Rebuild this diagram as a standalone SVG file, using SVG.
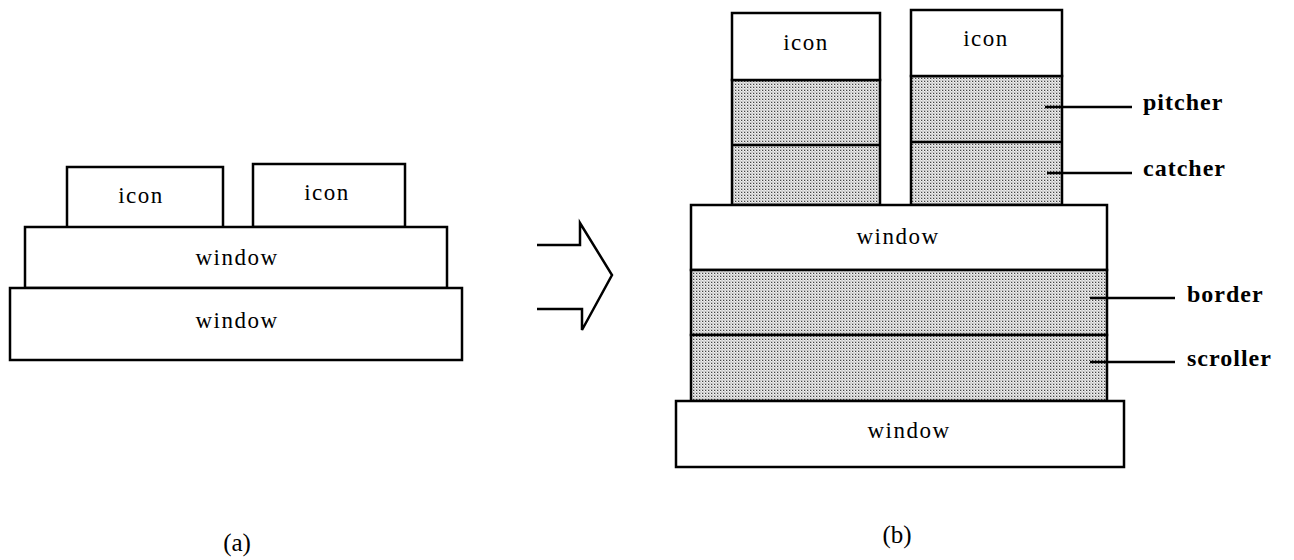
<svg xmlns="http://www.w3.org/2000/svg" width="1294" height="560" viewBox="0 0 1294 560">
<defs>
<pattern id="dots" width="3" height="3" patternUnits="userSpaceOnUse">
<rect width="3" height="3" fill="#f2f2f2"/>
<rect x="0" y="0" width="1" height="1" fill="#444"/>
<rect x="1.5" y="1.5" width="1" height="1" fill="#777"/>
<rect x="1" y="0" width="1" height="1" fill="#bbb"/>
<rect x="0" y="2" width="1" height="1" fill="#bbb"/>
</pattern>
<style>
.box{fill:#fff;stroke:#000;stroke-width:2.5}
.shade{fill:url(#dots);stroke:#000;stroke-width:2.5}
.ln{fill:none;stroke:#000;stroke-width:2.5}
.t{font-family:"Liberation Serif","Times New Roman",serif;font-size:23px;letter-spacing:1.5px;text-anchor:middle;fill:#000}
.lb{font-family:"Liberation Serif","Times New Roman",serif;font-size:24px;font-weight:bold;letter-spacing:1px;fill:#000}
.cap{font-family:"Liberation Serif","Times New Roman",serif;font-size:25px;text-anchor:middle;fill:#000}
</style>
</defs>
<rect width="1294" height="560" fill="#fff"/>

<!-- (a) -->
<g id="a-icon1"><rect class="box" x="67" y="167" width="156" height="62"/><text class="t" x="141" y="203">icon</text></g>
<g id="a-icon2"><rect class="box" x="253" y="164" width="152" height="63"/><text class="t" x="327" y="200">icon</text></g>
<g id="a-window1"><rect class="box" x="25" y="227" width="422" height="61"/><text class="t" x="237" y="265">window</text></g>
<g id="a-window2"><rect class="box" x="10" y="288" width="452" height="72"/><text class="t" x="237" y="328">window</text></g>
<text id="cap-a" class="cap" x="237" y="551">(a)</text>

<!-- arrow -->
<g id="arrow"><path class="ln" d="M537,245 L580,245 L580,223 L612,275 L582,330 L582,309 L537,309" stroke-linejoin="miter"/></g>

<!-- (b) -->
<g id="b-col1">
<rect class="shade" x="732" y="80" width="148" height="125"/>
<rect class="box" x="732" y="13" width="148" height="67"/>
<text class="t" x="806" y="50">icon</text>
<line class="ln" x1="732" y1="145" x2="880" y2="145"/>
</g>
<g id="b-col2">
<rect class="shade" x="911" y="76" width="151" height="129"/>
<rect class="box" x="911" y="10" width="151" height="66"/>
<text class="t" x="986" y="46">icon</text>
<line class="ln" x1="911" y1="142" x2="1062" y2="142"/>
</g>
<g id="b-window1">
<rect class="box" x="691" y="205" width="416" height="65"/>
<text class="t" x="898" y="244">window</text>
</g>
<g id="b-border"><rect class="shade" x="691" y="270" width="416" height="65"/></g>
<g id="b-scroller"><rect class="shade" x="691" y="335" width="416" height="66"/></g>
<g id="b-window2">
<rect class="box" x="676" y="401" width="448" height="66"/>
<text class="t" x="909" y="438">window</text>
</g>
<text id="cap-b" class="cap" x="897" y="543">(b)</text>

<g id="connectors">
<line class="ln" x1="1045" y1="107" x2="1132" y2="107"/>
<line class="ln" x1="1047" y1="173" x2="1132" y2="173"/>
<line class="ln" x1="1090" y1="298" x2="1175" y2="298"/>
<line class="ln" x1="1090" y1="362" x2="1175" y2="362"/>
</g>
<g id="labels">
<text class="lb" x="1143" y="110">pitcher</text>
<text class="lb" x="1143" y="176">catcher</text>
<text class="lb" x="1187" y="302">border</text>
<text class="lb" x="1187" y="366">scroller</text>
</g>
</svg>
